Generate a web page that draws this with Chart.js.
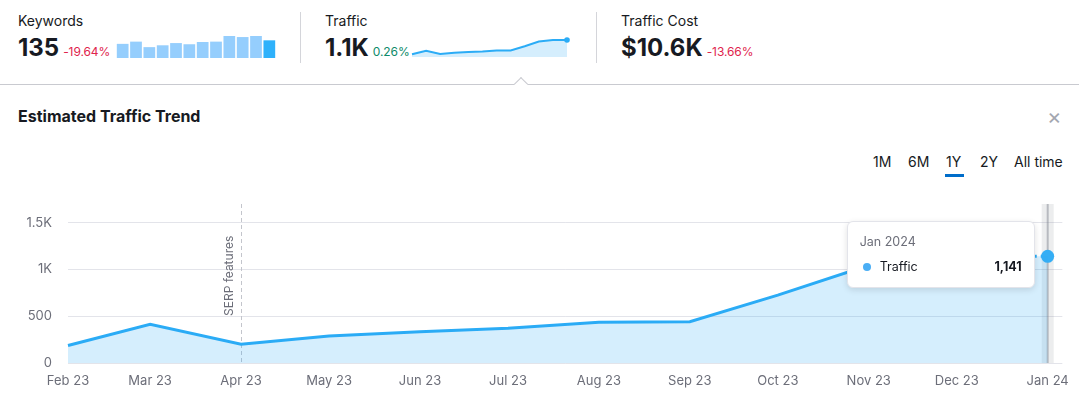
<!DOCTYPE html>
<html>
<head>
<meta charset="utf-8">
<script src="https://cdn.jsdelivr.net/npm/chart.js@4.4.1/dist/chart.umd.min.js"></script>
<style>
  html, body { margin: 0; padding: 0; background: #fff; }
  body { width: 1079px; height: 397px; position: relative; overflow: hidden;
         font-family: Inter, "Noto Sans", sans-serif; color: #171a22; }
  .abs { position: absolute; white-space: nowrap; }
  .lbl { font-size: 14px; line-height: 18px; top: 12px; }
  .val { top: 35px; display: flex; align-items: baseline; }
  .val b { font-size: 24px; line-height: 26px; font-weight: 700; }
  .val span { font-size: 12px; margin-left: 4px; letter-spacing: -0.1px; }
  .neg { color: #e0244d; }
  .pos { color: #0d8a6a; }
  .divider { top: 12px; width: 1px; height: 51px; background: #d4d5da; }
  .rule { left: 0; top: 84px; width: 1079px; height: 1px; background: #c9cad0; }
  .notch { left: 516px; top: 79px; width: 9px; height: 9px; background: #fff;
           border-left: 1px solid #c9cad0; border-top: 1px solid #c9cad0; transform: rotate(45deg); }
  .title { left: 18px; top: 106px; font-size: 16px; line-height: 20px; font-weight: 700; }
  .close { left: 1047px; top: 103px; font-size: 22px; line-height: 26px; color: #a4a7b0; }
  .range { top: 153px; font-size: 14px; line-height: 18px; }
  .under { left: 945px; top: 174px; width: 19px; height: 3px; background: #006dca; }
  #tip { position: absolute; width: 188px; box-sizing: border-box; padding: 12px 12px;
         background: #fff; border: 1px solid #e3e4ea; border-radius: 6px;
         box-shadow: 0 2px 6px rgba(0,0,0,0.12); display: none; pointer-events: none; }
  #tip .t { font-size: 12.5px; line-height: 16px; color: #6c6e79; }
  #tip .r { margin-top: 9px; font-size: 12.5px; line-height: 16px; display: flex; align-items: center; }
  #tip .d { width: 8px; height: 8px; border-radius: 50%; background: #4aaef5; margin: 0 9px 0 3px; }
  #tip .n { margin-left: auto; font-weight: 700; }
</style>
</head>
<body>
<div class="abs lbl" style="left:18px">Keywords</div>
<div class="abs val" style="left:18px"><b>135</b><span class="neg">-19.64%</span></div>
<div class="abs" style="left:116px; top:36px; width:160px; height:22px"><canvas id="kw"></canvas></div>
<div class="abs divider" style="left:300px"></div>

<div class="abs lbl" style="left:325px">Traffic</div>
<div class="abs val" style="left:325px"><b>1.1K</b><span class="pos">0.26%</span></div>
<div class="abs" style="left:409px; top:37px; width:162px; height:20px"><canvas id="spark"></canvas></div>
<div class="abs divider" style="left:596px"></div>

<div class="abs lbl" style="left:621px">Traffic Cost</div>
<div class="abs val" style="left:621px"><b>$10.6K</b><span class="neg">-13.66%</span></div>

<div class="abs rule"></div>
<div class="abs notch"></div>

<div class="abs title">Estimated Traffic Trend</div>
<div class="abs close">×</div>
<div class="abs range" style="left:873px">1M</div>
<div class="abs range" style="left:908px">6M</div>
<div class="abs range" style="left:946px">1Y</div>
<div class="abs range" style="left:980px">2Y</div>
<div class="abs range" style="left:1014px">All time</div>
<div class="abs under"></div>

<div class="abs" style="left:0; top:190px; width:1079px; height:207px"><canvas id="trend"></canvas></div>
<div id="tip"><div class="t"></div><div class="r"><div class="d"></div><span class="k"></span><span class="n"></span></div></div>

<script>
// data
var months = ['Feb 23', 'Mar 23', 'Apr 23', 'May 23', 'Jun 23', 'Jul 23', 'Aug 23', 'Sep 23', 'Oct 23', 'Nov 23', 'Dec 23', 'Jan 24'];
var traffic = [187, 414, 201, 288, 334, 371, 435, 442, 725, 1045, 1138, 1141];
var keywords = [108, 125, 83, 97, 114, 105, 122, 125, 168, 160, 168, 135];
var yTicks = [0, 500, 1000, 1500];
var events = [{ month: 'Apr 23', label: 'SERP features' }];

var LINE = '#2bacf6';
var FILL = 'rgba(43,172,246,0.2)';
var GREY = '#6c6e79';
var monthNames = ['Jan', 'Feb', 'Mar', 'Apr', 'May', 'Jun', 'Jul', 'Aug', 'Sep', 'Oct', 'Nov', 'Dec'];

// day offsets so spacing follows month length
var dates = months.map(function (m) {
    var p = m.split(' ');
    return new Date(Date.UTC(2000 + parseInt(p[1]), monthNames.indexOf(p[0]), 1));
});
var days = dates.map(function (d) { return (d - dates[0]) / 864e5; });
var last = traffic.length - 1;

Chart.defaults.font.family = 'Inter, "Noto Sans", sans-serif';
Chart.defaults.animation = false;

// keywords mini bars
new Chart(document.getElementById('kw'), {
    type: 'bar',
    data: {
        labels: months,
        datasets: [{
            data: keywords,
            backgroundColor: keywords.map(function (v, i) { return i === last ? '#2eb1fb' : '#95cefd'; }),
            barPercentage: 0.88,
            categoryPercentage: 1
        }]
    },
    options: {
        responsive: true, maintainAspectRatio: false, events: [],
        plugins: { legend: { display: false }, tooltip: { enabled: false } },
        scales: {
            x: { display: false },
            y: { display: false, min: 0, max: Math.max.apply(null, keywords) }
        }
    }
});

// traffic sparkline
new Chart(document.getElementById('spark'), {
    type: 'line',
    data: {
        labels: months,
        datasets: [{
            data: traffic,
            borderColor: LINE,
            backgroundColor: FILL,
            borderWidth: 2,
            fill: 'origin',
            clip: false,
            pointRadius: traffic.map(function (v, i) { return i === last ? 2.8 : 0; }),
            pointBackgroundColor: LINE,
            pointBorderWidth: 0
        }]
    },
    options: {
        responsive: true, maintainAspectRatio: false, events: [],
        layout: { autoPadding: false, padding: { left: 3, right: 4, top: 3, bottom: 0 } },
        plugins: { legend: { display: false }, tooltip: { enabled: false } },
        scales: {
            x: { display: false },
            y: { display: false, min: 0, max: Math.max.apply(null, traffic) }
        }
    }
});

// hover band + event markers
var markers = {
    id: 'markers',
    beforeDatasetsDraw: function (chart) {
        var c = chart.ctx, a = chart.chartArea, xs = chart.scales.x;
        c.save();
        events.forEach(function (e) {
            var x = Math.round(xs.getPixelForValue(days[months.indexOf(e.month)])) + 0.5;
            c.strokeStyle = '#c3c5cc';
            c.lineWidth = 1;
            c.setLineDash([4, 3]);
            c.beginPath();
            c.moveTo(x, a.top);
            c.lineTo(x, a.bottom);
            c.stroke();
            c.setLineDash([]);
            c.translate(x - 12, a.bottom - 47);
            c.rotate(-Math.PI / 2);
            c.fillStyle = GREY;
            c.font = '12px Inter, sans-serif';
            c.textAlign = 'left';
            c.textBaseline = 'middle';
            c.fillText(e.label, 0, 0);
            c.setTransform(1, 0, 0, 1, 0, 0);
        });
        var act = chart.getActiveElements();
        if (act.length) {
            var hx = act[0].element.x;
            c.fillStyle = 'rgba(120,125,135,0.14)';
            c.fillRect(hx - 6, a.top, 12, a.bottom - a.top);
            c.fillStyle = 'rgba(120,125,135,0.45)';
            c.fillRect(hx - 1, a.top, 2, a.bottom - a.top);
        }
        c.restore();
    }
};

function externalTip(context) {
    var t = context.tooltip, el = document.getElementById('tip');
    if (t.opacity === 0) { el.style.display = 'none'; return; }
    var i = t.dataPoints[0].dataIndex;
    var d = dates[i];
    el.querySelector('.t').textContent = monthNames[d.getUTCMonth()] + ' ' + d.getUTCFullYear();
    el.querySelector('.k').textContent = 'Traffic';
    el.querySelector('.n').textContent = traffic[i].toLocaleString('en-US');
    el.style.display = 'block';
    var cv = context.chart.canvas, box = cv.parentNode;
    el.style.left = (box.offsetLeft + t.caretX - 13 - el.offsetWidth) + 'px';
    el.style.top = (box.offsetTop + t.caretY - 35.5) + 'px';
}

var points = traffic.map(function (v, i) { return { x: days[i], y: v }; });

var chart = new Chart(document.getElementById('trend'), {
    type: 'line',
    data: {
        datasets: [{
            // area only
            label: 'area',
            data: points,
            borderWidth: 0,
            borderColor: 'rgba(0,0,0,0)',
            backgroundColor: FILL,
            fill: 'origin',
            pointRadius: 0,
            pointHoverRadius: 0
        }, {
            label: 'Traffic',
            data: points,
            borderColor: LINE,
            borderWidth: 3,
            fill: false,
            clip: false,
            pointRadius: 0,
            pointHoverRadius: 6.5,
            pointHoverBackgroundColor: '#35aef5',
            pointHoverBorderWidth: 0,
            tension: 0,
            segment: {
                borderDash: function (ctx) { return ctx.p1DataIndex === last ? [2, 4] : undefined; }
            }
        }]
    },
    options: {
        responsive: true,
        maintainAspectRatio: false,
        events: [],
        layout: { autoPadding: false, padding: { top: 14, right: 16, left: 0, bottom: 0 } },
        plugins: {
            legend: { display: false },
            tooltip: { enabled: false, external: externalTip }
        },
        scales: {
            x: {
                type: 'linear',
                min: 0,
                max: days[last] + 5,
                grid: { display: false, drawTicks: false },
                border: { display: false },
                afterBuildTicks: function (s) { s.ticks = days.map(function (v) { return { value: v }; }); },
                afterFit: function (s) { s.height = 34; },
                ticks: {
                    autoSkip: false,
                    maxRotation: 0,
                    padding: 10,
                    color: GREY,
                    font: { size: 13 },
                    callback: function (v, i) { return months[i]; }
                }
            },
            y: {
                min: 0,
                max: 1700,
                grid: { color: '#e3e4ea', drawTicks: true, tickLength: 13, tickColor: 'rgba(0,0,0,0)', lineWidth: 1 },
                border: { display: false },
                afterBuildTicks: function (s) { s.ticks = yTicks.map(function (v) { return { value: v }; }); },
                afterFit: function (s) { s.width = 68; },
                ticks: {
                    padding: 3,
                    color: GREY,
                    font: { size: 13 },
                    callback: function (v) { return v >= 1000 ? (v / 1000) + 'K' : v; }
                }
            }
        }
    },
    plugins: [markers]
});

var act = [{ datasetIndex: 1, index: last }];
chart.setActiveElements(act);
chart.tooltip.setActiveElements(act, { x: 0, y: 0 });
chart.update();
</script>
</body>
</html>
